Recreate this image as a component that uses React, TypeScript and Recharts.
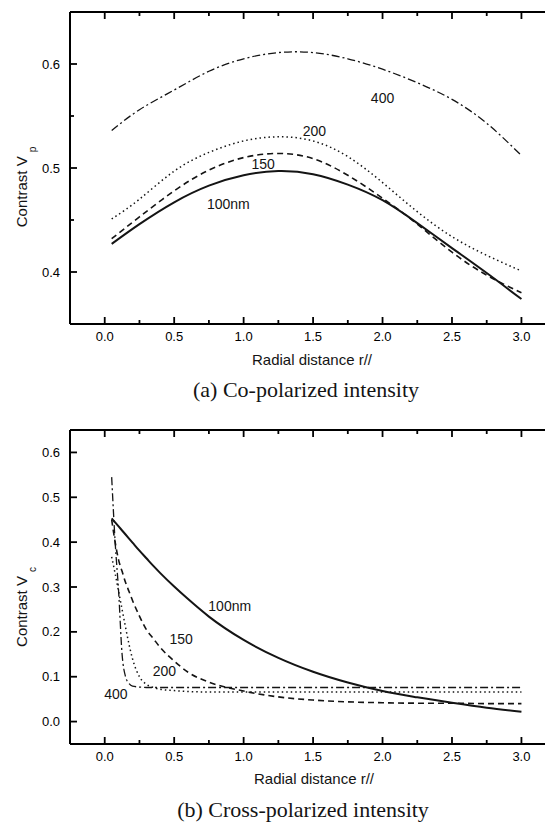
import React from 'react';
import { LineChart, Line, XAxis, YAxis, ReferenceDot } from 'recharts';

// (a) co-polarized contrast Vp vs radial distance
const R_A = [0.05, 0.25, 0.5, 0.75, 1.0, 1.25, 1.5, 1.75, 2.0, 2.25, 2.5, 2.75, 3.0];
const VP_100 = [0.427, 0.446, 0.467, 0.483, 0.493, 0.497, 0.494, 0.484, 0.469, 0.447, 0.423, 0.399, 0.374];
const VP_150 = [0.432, 0.453, 0.478, 0.498, 0.510, 0.514, 0.509, 0.493, 0.471, 0.446, 0.419, 0.397, 0.380];
const VP_200 = [0.451, 0.470, 0.497, 0.515, 0.526, 0.530, 0.526, 0.511, 0.486, 0.458, 0.434, 0.416, 0.401];
const VP_400 = [0.536, 0.556, 0.575, 0.593, 0.605, 0.611, 0.611, 0.605, 0.595, 0.582, 0.566, 0.543, 0.512];

// (b) cross-polarized contrast Vc (denser near r=0, the curves drop fast there)
const R_B = [0.05, 0.075, 0.1, 0.125, 0.15, 0.175, 0.2, 0.25, 0.3, 0.35, 0.4, 0.5, 0.6, 0.75, 1.0, 1.25, 1.5, 1.75, 2.0, 2.25, 2.5, 2.75, 3.0];
const VC_100 = [0.453, 0.444, 0.435, 0.426, 0.417, 0.408, 0.399, 0.381, 0.364, 0.347, 0.331, 0.301, 0.273, 0.234, 0.182, 0.142, 0.111, 0.087, 0.068, 0.054, 0.042, 0.031, 0.022];
const VC_150 = [0.450, 0.400, 0.360, 0.335, 0.310, 0.290, 0.270, 0.235, 0.205, 0.185, 0.165, 0.135, 0.110, 0.088, 0.068, 0.055, 0.048, 0.044, 0.042, 0.041, 0.041, 0.040, 0.040];
const VC_200 = [0.367, 0.330, 0.290, 0.250, 0.210, 0.172, 0.140, 0.100, 0.083, 0.076, 0.072, 0.069, 0.067, 0.066, 0.066, 0.066, 0.066, 0.066, 0.066, 0.066, 0.066, 0.066, 0.066];
const VC_400 = [0.545, 0.400, 0.290, 0.150, 0.100, 0.085, 0.079, 0.077, 0.076, 0.076, 0.076, 0.076, 0.076, 0.076, 0.076, 0.076, 0.076, 0.076, 0.076, 0.076, 0.076, 0.076, 0.076];

// axes (right frame edge sits just past the picture border)
const X_DOMAIN = [-0.25, 3.22];
const X_TICKS = [0, 0.25, 0.5, 0.75, 1.0, 1.25, 1.5, 1.75, 2.0, 2.25, 2.5, 2.75, 3.0];
const X_LABELS = [0, 0.5, 1.0, 1.5, 2.0, 2.5, 3.0];
const YA_DOMAIN = [0.35, 0.65];
const YA_TICKS = [0.4, 0.45, 0.5, 0.55, 0.6];
const YA_LABELS = [0.4, 0.5, 0.6];
const YB_DOMAIN = [-0.05, 0.65];
const YB_TICKS = [0, 0.05, 0.1, 0.15, 0.2, 0.25, 0.3, 0.35, 0.4, 0.45, 0.5, 0.55, 0.6];
const YB_LABELS = [0, 0.1, 0.2, 0.3, 0.4, 0.5, 0.6];

// curve annotations: [text, r, V]
const NOTES_A: [string, number, number][] = [['400', 2.0, 0.567], ['200', 1.51, 0.536], ['150', 1.14, 0.504], ['100nm', 0.89, 0.465]];
const NOTES_B: [string, number, number][] = [['100nm', 0.9, 0.257], ['150', 0.55, 0.183], ['200', 0.43, 0.112], ['400', 0.08, 0.062]];

const SANS = 'Liberation Sans, Arial, sans-serif';
const SERIF = 'Liberation Serif, Times New Roman, serif';
const INK = '#141414';

const has = (list: number[], v: number) => list.some(m => Math.abs(m - v) < 1e-6);

// inward ticks, major ones longer and labelled
const tickFor = (side: string, labels: number[]) => (props: any) => {
  const { x, y, payload } = props;
  const v = payload.value;
  const major = has(labels, v);
  const len = major ? 7 : 4;
  return (
    <g>
      <line x1={x} y1={y}
        x2={side === 'left' ? x + len : side === 'right' ? x - len : x}
        y2={side === 'bottom' ? y - len : side === 'top' ? y + len : y}
        stroke="black" strokeWidth={1.8} />
      {major && side === 'bottom' && (
        <text x={x} y={y + 17} textAnchor="middle" fontSize={13} fontFamily={SANS}>{v.toFixed(1)}</text>
      )}
      {major && side === 'left' && (
        <text x={x - 10} y={y + 4.5} textAnchor="end" fontSize={13} fontFamily={SANS}>{v.toFixed(1)}</text>
      )}
    </g>
  );
};

// chart starts at the body's 8px offset; margins put the plot at the reference position
const Panel = ({ data, yDomain, yTicks, yLabels, notes, height, marginTop, topH, plotH, curve }: any) => (
  <LineChart width={545} height={height} data={data} margin={{ top: marginTop, right: 0, bottom: height - marginTop - topH - plotH - 30, left: 0 }}>
    <XAxis dataKey="r" type="number" domain={X_DOMAIN} ticks={X_TICKS} height={30}
      tickSize={0} tickMargin={0} tickLine={false} tick={tickFor('bottom', X_LABELS)}
      axisLine={{ stroke: 'black', strokeWidth: 2 }} />
    <XAxis xAxisId="top" dataKey="r" orientation="top" type="number" domain={X_DOMAIN} ticks={X_TICKS} height={topH}
      tickSize={0} tickMargin={0} tickLine={false} tick={tickFor('top', X_LABELS)}
      axisLine={{ stroke: 'black', strokeWidth: 2 }} />
    <YAxis type="number" domain={yDomain} ticks={yTicks} width={62}
      tickSize={0} tickMargin={0} tickLine={false} tick={tickFor('left', yLabels)}
      axisLine={{ stroke: 'black', strokeWidth: 2 }} />
    <YAxis yAxisId="right" orientation="right" type="number" domain={yDomain} ticks={yTicks} width={1}
      tickSize={0} tickMargin={0} tickLine={false} tick={tickFor('right', yLabels)}
      axisLine={false} />
    <Line xAxisId="top" yAxisId="right" type={curve} dataKey="v400" stroke={INK} strokeWidth={1.3} strokeDasharray="8 3 2 3" dot={false} activeDot={false} isAnimationActive={false} />
    <Line type={curve} dataKey="v200" stroke={INK} strokeWidth={1.5} strokeDasharray="1.5 3" dot={false} activeDot={false} isAnimationActive={false} />
    <Line type={curve} dataKey="v150" stroke={INK} strokeWidth={1.6} strokeDasharray="6 4" dot={false} activeDot={false} isAnimationActive={false} />
    <Line type={curve} dataKey="v100" stroke={INK} strokeWidth={2} dot={false} activeDot={false} isAnimationActive={false} />
    {notes.map(([t, r, v]: [string, number, number]) => (
      <ReferenceDot key={t} x={r} y={v} r={0} fill="none" stroke="none"
        label={{ value: t, position: 'center', fontSize: 14, fill: INK, fontFamily: SANS }} />
    ))}
  </LineChart>
);

const dataA = R_A.map((r, i) => ({ r, v100: VP_100[i], v150: VP_150[i], v200: VP_200[i], v400: VP_400[i] }));
const dataB = R_B.map((r, i) => ({ r, v100: VC_100[i], v150: VC_150[i], v200: VC_200[i], v400: VC_400[i] }));

const YTitle = ({ top, sub }: { top: number; sub: string }) => (
  <div style={{ position: 'absolute', left: 21, top, transform: 'translate(-50%,-50%) rotate(-90deg)', fontFamily: SANS, fontSize: 15, whiteSpace: 'nowrap', color: INK }}>
    Contrast V<span style={{ fontSize: 10, position: 'relative', top: 9, marginLeft: 4 }}>{sub}</span>
  </div>
);

const Centered = ({ x, y, size, family, children }: any) => (
  <div style={{ position: 'absolute', left: x, top: y, transform: 'translate(-50%,-50%)', fontFamily: family, fontSize: size, whiteSpace: 'nowrap', color: INK }}>
    {children}
  </div>
);

export default function App() {
  return (
    <div>
      <Panel data={dataA} yDomain={YA_DOMAIN} yTicks={YA_TICKS} yLabels={YA_LABELS} notes={NOTES_A} height={412} marginTop={0} topH={4} plotH={312} curve="natural" />
      <Panel data={dataB} yDomain={YB_DOMAIN} yTicks={YB_TICKS} yLabels={YB_LABELS} notes={NOTES_B} height={399} marginTop={5} topH={5} plotH={314} curve="monotone" />
      <YTitle top={187} sub="p" />
      <YTitle top={607} sub="c" />
      <Centered x={312} y={359} size={15} family={SANS}>Radial distance r//</Centered>
      <Centered x={314} y={778} size={15} family={SANS}>Radial distance r//</Centered>
      <Centered x={306} y={390} size={22} family={SERIF}>(a) Co-polarized intensity</Centered>
      <Centered x={303} y={810} size={22} family={SERIF}>(b) Cross-polarized intensity</Centered>
    </div>
  );
}
